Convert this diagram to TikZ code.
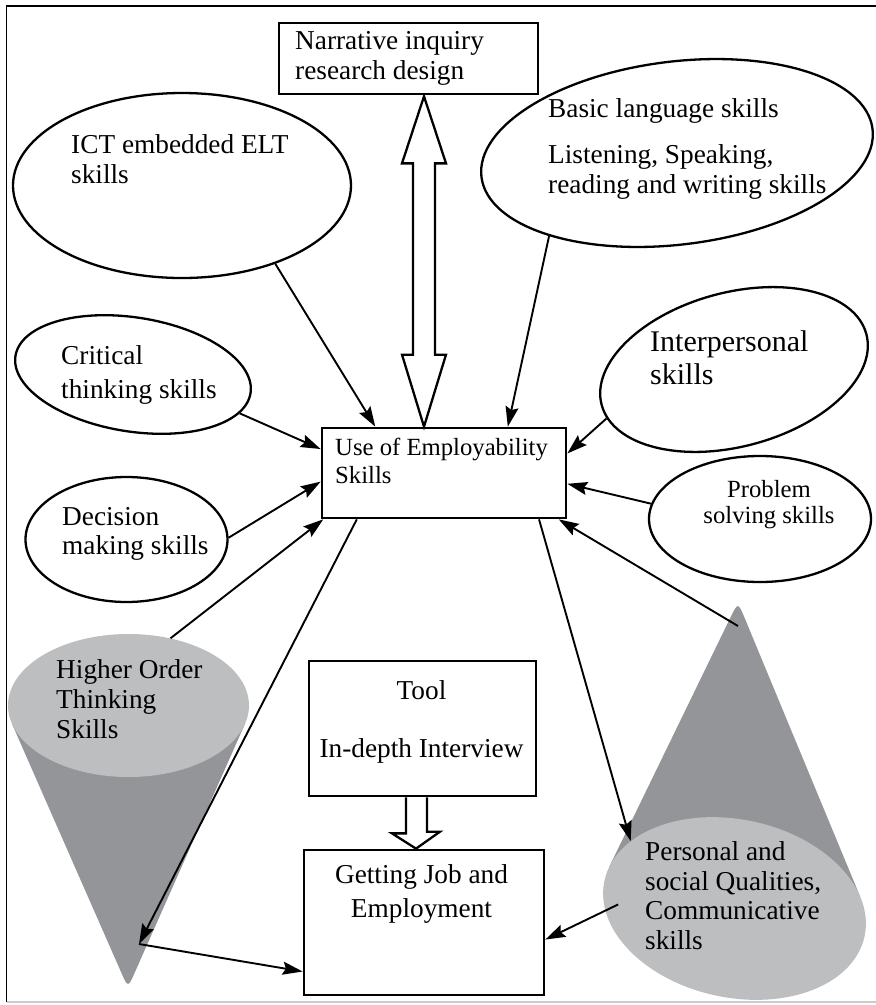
\documentclass[tikz,border=0pt]{standalone}
\usepackage{fontspec}
\setmainfont{Liberation Serif}
\usepackage{xcolor}
\usetikzlibrary{positioning}
\usetikzlibrary{calc,shapes.geometric,arrows.meta}
\definecolor{conelight}{RGB}{188,190,192}
\definecolor{conedark}{RGB}{147,149,152}

\begin{document}
\begin{tikzpicture}[x=1pt,y=-1pt,
  box/.style = {draw, line width=2.7pt, inner sep=0pt},
  bubble/.style = {ellipse, draw, line width=2.3pt, inner sep=0pt},
  cone top/.style = {ellipse, fill=conelight, inner sep=0pt},
  lbl/.style = {inner sep=0pt, align=left, font=\fontsize{27.3}{#1}\selectfont},
  lbl/.default = 30,
  link/.style = {line width=1.9pt, -{Stealth[length=20pt,width=13pt,inset=3pt]}},
  hollow/.style = {draw, line width=2.3pt, fill=white, line join=miter}
  ]
  \useasboundingbox (0,0) rectangle (876,1005);
  % frame
  \draw[line width=1.8pt] (6.5,1002) -- (6.5,6) -- (876,6);
  \draw[line width=1.4pt, black!20] (6.5,1002) -- (876,1002);

  % cones
  \fill[conedark] (11.9,723.6) -- (120.8,971.5) .. controls (128,988) .. (135.2,971.5) -- (245.1,723.6) -- (128,705) -- cycle;
  \fill[conedark] (609.2,866.9) -- (730.1,618.2) .. controls (738,602) .. (744.9,618.6) -- (860.4,897.2) -- (734,908) -- cycle;
  \node[cone top, minimum width=241, minimum height=143] (hots) at (128.5,705.5) {};
  \node[cone top, minimum width=266, minimum height=178, rotate=-12] (pers) at (734.5,908.5) {};
  \coordinate (hots-tip) at (139,944);
  \coordinate (pers-apex) at (738,626);

  % boxes
  \node[box, minimum width=259, minimum height=71] (narr) at (408.5,58.5) {};
  \node[box, minimum width=244, minimum height=90] (use) at (444,473) {};
  \node[box, minimum width=227, minimum height=135] (tool) at (422.5,728.5) {};
  \node[box, minimum width=240, minimum height=145] (get) at (424,922.5) {};

  % bubbles
  \node[bubble, minimum width=338, minimum height=185] (ict) at (182,185.5) {};
  \node[bubble, minimum width=394, minimum height=183, rotate=7] (basic) at (677,153) {};
  \node[bubble, minimum width=274, minimum height=154, rotate=15] (inter) at (734,369.5) {};
  \node[bubble, minimum width=238, minimum height=114, rotate=-9] (crit) at (133,374.5) {};
  \node[bubble, minimum width=202, minimum height=125] (dec) at (126.5,539.5) {};
  \node[bubble, minimum width=222, minimum height=126] (prob) at (760,519) {};

  % texts
  \node[lbl, anchor=north west] (narr-text) at (295,31.4) {Narrative inquiry\\research design};
  \node[lbl, anchor=north west] (ict-text) at (71,134.4) {ICT embedded ELT\\skills};
  \node[lbl, anchor=north west] (basic-text) at (548,98.4) {Basic language skills\\[16pt]Listening, Speaking,\\reading and writing skills};
  \node[lbl, anchor=north west, font=\fontsize{30}{33}\selectfont] (inter-text) at (650,330.5) {Interpersonal\\skills};
  \node[lbl=34, anchor=north west] (crit-text) at (61,345.4) {Critical\\thinking skills};
  \node[lbl=29, anchor=north west] (dec-text) at (62,507.4) {Decision\\making skills};
  \node[lbl, anchor=north, align=center, font=\fontsize{24.7}{26}\selectfont] (prob-text) at (769,480) {Problem\\solving skills};
  \node[lbl, anchor=north west, font=\fontsize{24.7}{28}\selectfont] (use-text) at (335,438) {Use of Employability\\Skills};
  \node[lbl, anchor=north west] (hots-text) at (56,659.4) {Higher Order\\Thinking\\Skills};
  \node[lbl, anchor=north, align=center] (tool-text) at (421.5,680.4) {Tool\\[28pt]In-depth Interview};
  \node[lbl=34, anchor=north, align=center] (get-text) at (421.5,864.4) {Getting Job and\\Employment};
  \node[lbl=29.5, anchor=north west] (pers-text) at (645,841.4) {Personal and\\social Qualities,\\Communicative\\skills};

  % hollow arrows
  \coordinate (dbl-top) at ($(narr.south)+(15.5,1)$);
  \coordinate (dbl-bot) at (dbl-top |- use.north);
  \draw[hollow] (dbl-top) -- ++(22,67) -- ++(-11,0) -- ($(dbl-bot)+(11,-72)$) -- ++(11,0) -- (dbl-bot)
    -- ++(-22,-72) -- ++(11,0) -- ($(dbl-top)+(-11,67)$) -- ++(-11,0) -- cycle;
  \coordinate (tip-top) at ($(tool.south)+(-6,0)$);
  \coordinate (tip-bot) at ($(get.north)+(-8,0)$);
  \draw[hollow] ($(tip-top)+(-10.5,0)$) -- ++(0,36) -- ++(-14,0) -- (tip-bot) -- ++(24,-17) -- ++(-13,0) -- ($(tip-top)+(10.5,0)$);

  % links
  \draw[link] (ict.-40) -- (use.146);
  \draw[link] (basic.206) -- (use.36);
  \draw[link] (crit.-11) -- (use.169);
  \draw[link] (dec.1) -- (use.184);
  \draw[link] (hots.58) -- (use.201);
  \draw[link] (inter.186) -- (use.9);
  \draw[link] (prob.172) -- (use.-5);
  \draw[link] (pers-apex) -- (use.-22);
  \draw[link] (use.208) -- (hots-tip);
  \draw[link] (use.-26) -- (pers.159);
  \draw[link] (hots-tip) -- (get.202);
  \draw[link] ($(pers.center)!0.89!(pers.190)$) -- (get.-8);
\end{tikzpicture}
\end{document}
